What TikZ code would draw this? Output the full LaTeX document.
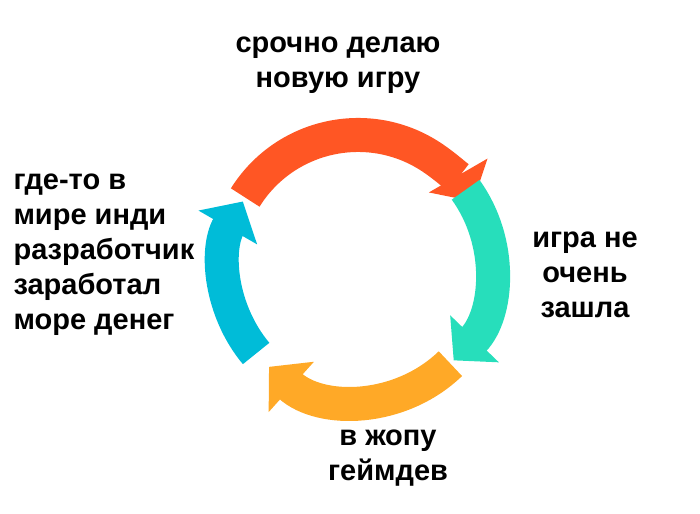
\documentclass[tikz,border=0pt]{standalone}
\usepackage{fontspec}
\setmainfont{Liberation Sans}
\usetikzlibrary{arrows.meta}
\definecolor{topred}{HTML}{FF5624}
\definecolor{rightgreen}{HTML}{27DEBB}
\definecolor{bottomorange}{HTML}{FFA927}
\definecolor{leftblue}{HTML}{00BCD8}
\begin{document}
\begin{tikzpicture}[x=1pt,y=1pt,
    cycle arrow/.style={line width=34pt,-{Triangle[length=30pt 0 0,width=66pt 0 0]}},
    label text/.style={font=\bfseries\fontsize{29}{35}\selectfont,align=center}]
  \useasboundingbox (0,0) rectangle (700,513);
  \coordinate (c) at (358,245);
  \draw[cycle arrow,topred] (c) ++(148:133) arc[start angle=148,end angle=30,radius=133];
  \draw[cycle arrow,rightgreen] (c) ++(36:133) arc[start angle=36,end angle=-44,radius=133];
  \draw[cycle arrow,bottomorange] (c) ++(-46:133) arc[start angle=-46,end angle=-132,radius=133];
  \draw[cycle arrow,leftblue] (c) ++(-140:133) arc[start angle=-140,end angle=-210,radius=133];
  \node[label text] (top) at (338,448) {срочно делаю\\новую игру};
  \node[label text] (right) at (585,238) {игра не\\очень\\зашла};
  \node[label text] (bottom) at (388,55) {в жопу\\геймдев};
  \node[label text,align=left,anchor=west] (left) at (10,258) {где-то в\\мире инди\\разработчик\\заработал\\море денег};
\end{tikzpicture}
\end{document}
